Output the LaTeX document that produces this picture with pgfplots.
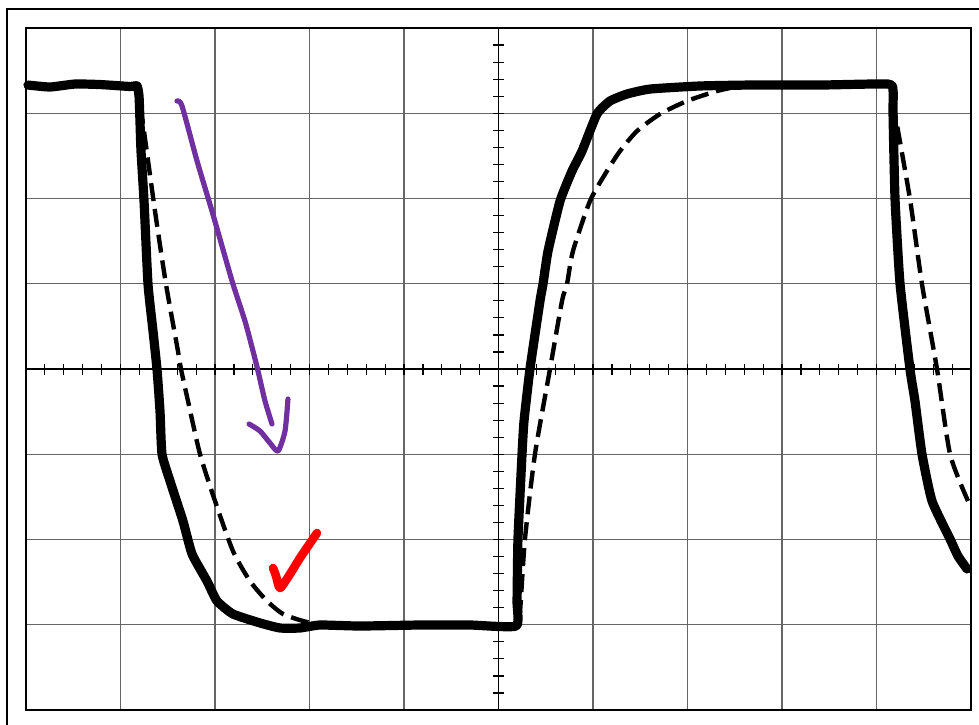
\documentclass[border=0pt]{standalone}
\usepackage{pgfplots}
\pgfplotsset{compat=1.18}
\definecolor{arrowpurple}{RGB}{112,48,160}
\begin{document}
\begin{tikzpicture}
\pgfplotsset{common/.style={
  at={(0,0)}, anchor=south west,
  width=472.5pt, height=341pt, scale only axis,
  xmin=-5, xmax=5, ymin=-4, ymax=4,
  xticklabels={}, yticklabels={},
}}
% grid + frame
\begin{axis}[common, name=ax,
  xtick={-4,...,4}, ytick={-3,...,3},
  grid=major, major grid style={black!60, line width=0.6pt},
  major tick length=0pt,
  axis line style={black, line width=1.3pt},
]
\end{axis}
% centre cross with ticks + data
\begin{axis}[common, clip=false,
  axis lines=middle,
  axis line style={-, black, line width=0.8pt},
  xtick={-5,...,5}, minor x tick num=4,
  ytick={-4,...,4}, minor y tick num=4,
  tick align=center,
  major tick length=5.5pt, minor tick length=5.5pt,
  tick style={black, line width=0.6pt},
]
% solid trace
\addplot[black, line width=4.6pt, line cap=round, line join=round, smooth, tension=0.3] coordinates {
(-4.979,3.331) (-4.746,3.308) (-4.481,3.343) (-4.217,3.337) (-3.899,3.314)
(-3.825,3.320) (-3.804,3.202) (-3.794,2.909) (-3.783,2.557) (-3.751,1.970)
(-3.709,0.997) (-3.656,0.446) (-3.614,0) (-3.582,-0.493) (-3.561,-0.997)
(-3.476,-1.314) (-3.339,-1.783) (-3.243,-2.170) (-3.085,-2.487) (-2.979,-2.721)
(-2.810,-2.874) (-2.524,-2.979) (-2.312,-3.038) (-2.101,-3.038) (-1.889,-3.003)
(-1.466,-3.015) (-0.831,-3.003) (-0.302,-3.003) (0.185,-3.015) (0.196,-2.721)
(0.206,-1.994) (0.249,-0.997) (0.270,-0.610) (0.333,0) (0.439,0.798)
(0.471,0.997) (0.524,1.384) (0.651,1.970) (0.778,2.323) (0.884,2.557)
(1.042,2.991) (1.180,3.144) (1.360,3.226) (1.603,3.284) (2.132,3.320)
(2.661,3.331) (3.402,3.331) (4.122,3.343) (4.175,3.261) (4.175,2.991)
(4.196,1.994) (4.249,0.997) (4.354,0) (4.407,-0.375) (4.481,-0.997)
(4.587,-1.548) (4.778,-1.994) (4.862,-2.194) (4.958,-2.346)
};
% dashed traces
\addplot[black, line width=2.2pt, smooth, tension=0.4, dash pattern=on 9pt off 4pt] coordinates {
(-3.794,3.085) (-3.762,2.874) (-3.635,1.853) (-3.519,0.997) (-3.392,0.211)
(-3.360,0) (-3.286,-0.375) (-3.159,-0.997) (-3.000,-1.548) (-2.810,-2.135)
(-2.630,-2.487) (-2.450,-2.721) (-2.280,-2.874) (-2.069,-2.956) (-1.889,-3.003)
};
\addplot[black, line width=2.2pt, smooth, tension=0.4, dash pattern=on 9pt off 4pt] coordinates {
(0.206,-2.897) (0.228,-2.839) (0.280,-1.994) (0.386,-0.997) (0.545,0)
(0.672,0.798) (0.725,0.997) (0.788,1.384) (0.968,1.970) (1.148,2.323)
(1.286,2.557) (1.466,2.792) (1.709,2.991) (1.995,3.144) (2.312,3.261) (2.503,3.308)
};
\addplot[black, line width=2.2pt, smooth, tension=0.4, dash pattern=on 9pt off 4pt] coordinates {
(4.175,3.144) (4.196,2.991) (4.354,1.994) (4.481,0.997) (4.640,0)
(4.778,-0.997) (4.968,-1.548)
};
% purple arrow
\addplot[arrowpurple, line width=2.6pt, line cap=round, line join=round, smooth, tension=0.4] coordinates {
(-3.402,3.144) (-3.349,3.085) (-3.190,2.440) (-3.032,1.853) (-2.926,1.443)
(-2.810,0.997) (-2.683,0.563) (-2.598,0.211) (-2.545,-0.023) (-2.471,-0.375)
(-2.397,-0.645)
};
\addplot[arrowpurple, line width=2.6pt, line cap=round, line join=round, smooth, tension=0.4] coordinates {
(-2.640,-0.645) (-2.524,-0.727) (-2.418,-0.868) (-2.333,-0.962) (-2.259,-0.727) (-2.228,-0.352)
};
% red check mark
\addplot[red, line width=4.3pt, line cap=round, line join=round, smooth, tension=0.4] coordinates {
(-2.386,-2.334) (-2.354,-2.428) (-2.312,-2.569) (-2.206,-2.405) (-2.101,-2.217) (-1.921,-1.924)
};
\end{axis}
% outer frame (left and top edges; right/bottom lie outside the picture)
\draw[black, line width=1pt]
  ([shift={(-9.5pt,-40pt)}]ax.south west) -- ([shift={(-9.5pt,350.5pt)}]ax.south west)
  -- ([shift={(520pt,350.5pt)}]ax.south west);
\pgfresetboundingbox
\path[use as bounding box] ([shift={(-13pt,-7pt)}]ax.south west) rectangle ([shift={(476.5pt,355pt)}]ax.south west);
\end{tikzpicture}
\end{document}
